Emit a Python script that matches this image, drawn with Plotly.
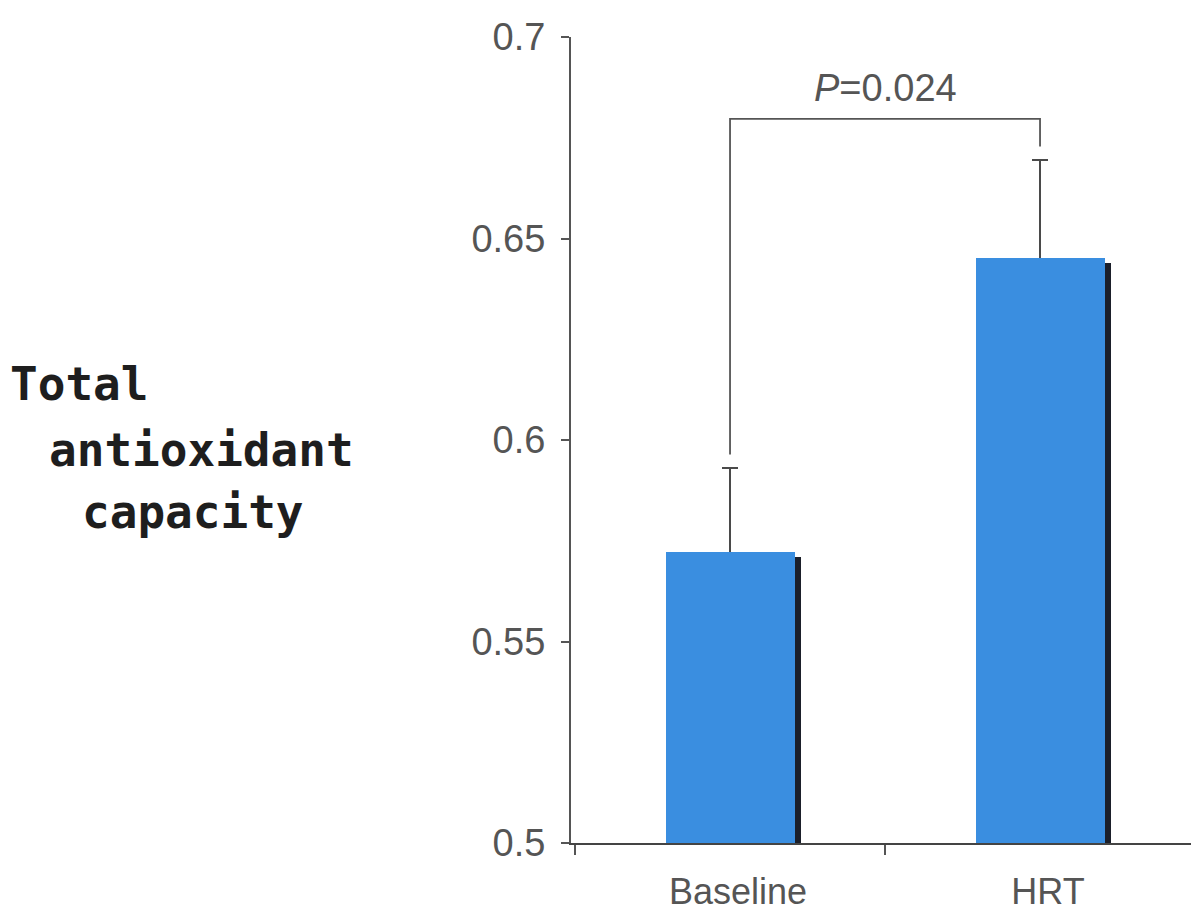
import plotly.graph_objects as go

# Total antioxidant capacity: baseline vs. after HRT
categories = ["Baseline", "HRT"]
means = [0.5722, 0.6452]
errors = [0.0209, 0.0243]
p_label = "<i>P</i>=0.024"
bracket_level = 0.6797
y_ticks = [0.5, 0.55, 0.6, 0.65, 0.7]
y_tick_text = ["0.5", "0.55", "0.6", "0.65", "0.7"]
title_lines = ["Total", "antioxidant", "capacity"]

W, H = 1192, 913
L, R, T, B = 571, 1, 37, 70
plot_w = W - L - R
plot_h = H - T - B

BAR_BLUE = "#3a8ee0"
SHADOW = "#1b1f2a"
INK = "#555555"
BAR_W = 0.416

fig = go.Figure()

# error bars sit on an empty bar drawn first, so the lower half is hidden by the bars
fig.add_trace(go.Bar(
    x=categories,
    y=[m - 0.5 for m in means],
    base=0.5,
    width=BAR_W,
    marker=dict(color="rgba(0,0,0,0)", line=dict(width=0)),
    error_y=dict(type="data", array=errors, symmetric=True,
                 color="#4a4a4a", thickness=2, width=8),
    hoverinfo="skip",
    showlegend=False,
))

# dark drop edge on the right side of each bar
fig.add_trace(go.Bar(
    x=categories,
    y=[m - 0.0013 - 0.5 for m in means],
    base=0.5,
    width=0.425,
    offset=-0.195,
    marker=dict(color=SHADOW, line=dict(width=0)),
    hoverinfo="skip",
    showlegend=False,
))

# main bars
fig.add_trace(go.Bar(
    x=categories,
    y=[m - 0.5 for m in means],
    base=0.5,
    width=BAR_W,
    marker=dict(color=BAR_BLUE, line=dict(width=0)),
    showlegend=False,
))

# significance bracket
gap = 0.0033
left_bottom = means[0] + errors[0] + gap
right_bottom = means[1] + errors[1] + gap
fig.add_shape(type="path",
              path=f"M 0,{left_bottom} L 0,{bracket_level} L 1,{bracket_level} L 1,{right_bottom}",
              xref="x", yref="y", line=dict(color="#555555", width=1.8))
fig.add_annotation(x=0.5, y=bracket_level, xref="x", yref="y", text=p_label,
                   showarrow=False, yanchor="bottom", yshift=8,
                   font=dict(family="Liberation Sans, Arial", size=38, color=INK))

# left-hand axis title, stepped lines
def px_to_paper(px, py):
    return (px - L) / plot_w, (H - B - py) / plot_h

title_pos = [(8, 384), (47, 450), (80, 512)]
for txt, (px, py) in zip(title_lines, title_pos):
    xp, yp = px_to_paper(px, py)
    fig.add_annotation(x=xp, y=yp, xref="paper", yref="paper", text=f"<b>{txt}</b>",
                       showarrow=False, xanchor="left", yanchor="middle",
                       font=dict(family="DejaVu Sans Mono", size=46, color="#1e1e1e"))

fig.update_layout(
    width=W, height=H,
    margin=dict(l=L, r=R, t=T, b=B),
    plot_bgcolor="white", paper_bgcolor="white",
    barmode="overlay",
    bargap=0,
    font=dict(family="Liberation Sans, Arial", size=36, color=INK),
)
fig.update_xaxes(
    type="category",
    range=[-0.513, 1.487],
    showline=True, linecolor="#444444", linewidth=2,
    ticks="outside", tickson="boundaries", ticklen=10, tickwidth=1.5, tickcolor="#555555",
    tickfont=dict(size=36, color=INK),
    ticklabelstandoff=16, ticklabelshift=8,
    showgrid=False, zeroline=False,
)
fig.update_yaxes(
    range=[0.5, 0.7],
    tickvals=y_ticks, ticktext=y_tick_text,
    showline=True, linecolor="#555555", linewidth=2,
    ticks="outside", ticklen=8, tickwidth=1.5, tickcolor="#555555",
    tickfont=dict(size=38, color=INK),
    ticklabelstandoff=8,
    showgrid=False, zeroline=False,
)

fig.write_html("out.html")
